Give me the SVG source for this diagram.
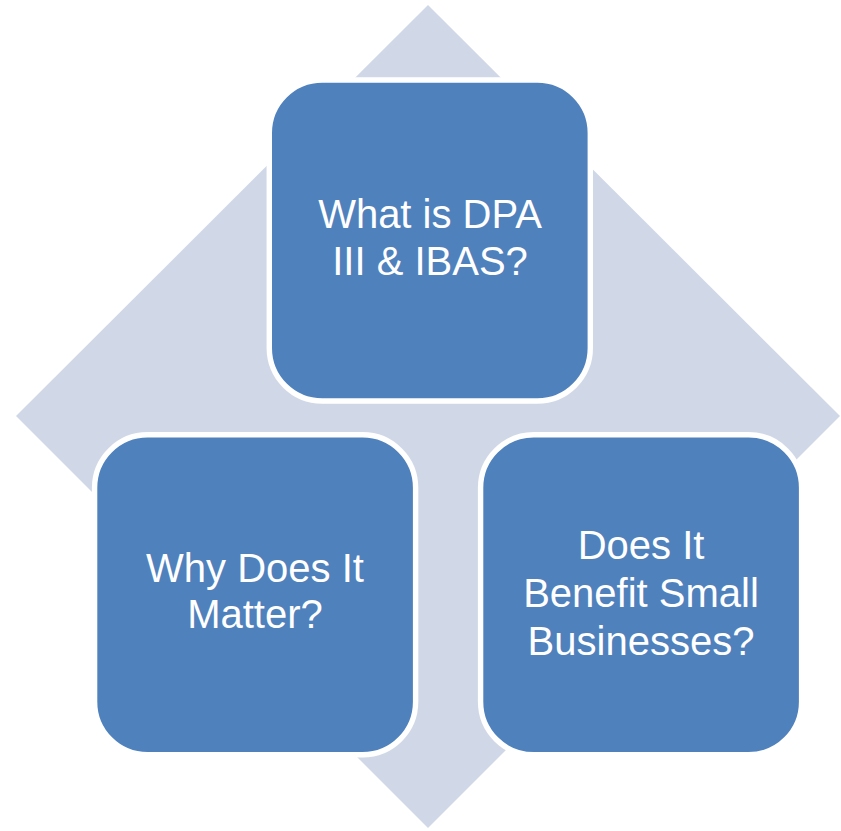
<svg xmlns="http://www.w3.org/2000/svg" width="841" height="831" viewBox="0 0 841 831">
  <style>
    .box { fill: #4F81BD; stroke: #FFFFFF; stroke-width: 5.4; }
    .lbl { font-family: "Liberation Sans", Arial, sans-serif; font-size: 40px; fill: #FFFFFF; text-anchor: middle; }
  </style>
  <rect width="841" height="831" fill="#FFFFFF"/>
  <g id="background">
    <polygon points="428,5 840,416 428,828 16,416" fill="#D0D8E8"/>
  </g>
  <g id="connectors"></g>
  <g id="node-top">
    <rect class="box" x="269.3" y="80" width="321" height="321" rx="53" ry="53"/>
    <text class="lbl" x="430" y="228">What is DPA</text>
    <text class="lbl" x="430" y="275">III &amp; IBAS?</text>
  </g>
  <g id="node-left">
    <rect class="box" x="94.6" y="434.8" width="321" height="320" rx="53" ry="53"/>
    <text class="lbl" x="255" y="582">Why Does It</text>
    <text class="lbl" x="255" y="628">Matter?</text>
  </g>
  <g id="node-right">
    <rect class="box" x="480.6" y="434.8" width="321" height="320" rx="53" ry="53"/>
    <text class="lbl" x="641" y="559">Does It</text>
    <text class="lbl" x="641" y="607">Benefit Small</text>
    <text class="lbl" x="641" y="655">Businesses?</text>
  </g>
</svg>
